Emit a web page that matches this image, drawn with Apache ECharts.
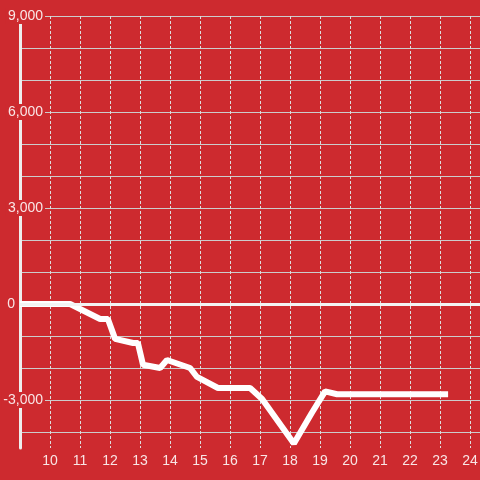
<!DOCTYPE html>
<html>
<head>
<meta charset="utf-8">
<script src="https://cdn.jsdelivr.net/npm/echarts@6/dist/echarts.min.js"></script>
<style>
  html, body { margin: 0; padding: 0; background: #cd2a2f; }
  #chart { width: 480px; height: 480px; }
</style>
</head>
<body>
<div id="chart"></div>
<script>
// hour of day vs running balance
const hours = [9, 10.67, 11.67, 11.93, 12.17, 12.77, 12.93, 13.1, 13.67, 13.9, 14.67, 14.9, 15.6, 16.67, 17.07, 18.13, 18.73, 19.17, 19.57, 23.27]
const balance = [0, 0, -470, -470, -1090, -1220, -1220, -1900, -2000, -1750, -2000, -2280, -2625, -2625, -2970, -4360, -3400, -2730, -2820, -2820]
const yLabelValues = [9000, 6000, 3000, -3000]

const bg = '#cd2a2f'
const textColor = 'rgba(255,255,255,0.88)'
const font = 'Arial, "Liberation Sans", sans-serif'

const chart = echarts.init(document.getElementById('chart'))

chart.setOption({
  backgroundColor: bg,
  animation: false,
  textStyle: { fontFamily: font },
  grid: { left: 20, right: 0, top: 16, bottom: 32, outerBoundsMode: 'none' },
  xAxis: {
    type: 'value',
    min: 9,
    max: 24.3333,
    interval: 1,
    axisLine: { show: false },
    axisTick: { show: false },
    axisLabel: {
      color: textColor,
      fontSize: 14,
      fontFamily: font,
      margin: 6,
      showMinLabel: false,
      showMaxLabel: false
    },
    splitLine: {
      show: true,
      showMinLine: false,
      showMaxLine: false,
      lineStyle: { color: '#dddddd', width: 1, type: [3, 2] }
    }
  },
  yAxis: {
    type: 'value',
    min: -4500,
    max: 9000,
    interval: 500,
    axisLine: { show: true, lineStyle: { color: '#eeeeee', width: 3 } },
    axisTick: { show: false },
    axisLabel: {
      inside: true,
      align: 'right',
      margin: 25,
      formatter: (v) => yLabelValues.includes(v) ? '{a|' + v.toLocaleString('en-US') + '}' : '',
      rich: {
        a: { color: textColor, fontSize: 14, fontFamily: font, backgroundColor: bg, padding: [1, 2, 1, 2] }
      }
    },
    splitLine: {
      show: true,
      lineStyle: { color: ['rgba(0,0,0,0)', '#cccccc'], width: 1 }
    }
  },
  series: [
    {
      type: 'line',
      data: hours.map((h, i) => [h, balance[i]]),
      symbol: 'none',
      lineStyle: { color: '#ffffff', width: 6 },
      markLine: {
        silent: true,
        symbol: 'none',
        data: [{ yAxis: 0 }],
        lineStyle: { color: '#f3f3f3', width: 3, type: 'solid' },
        label: { show: true, position: 'start', formatter: '0', color: textColor, fontSize: 14, fontFamily: font }
      }
    }
  ]
})
</script>
</body>
</html>
